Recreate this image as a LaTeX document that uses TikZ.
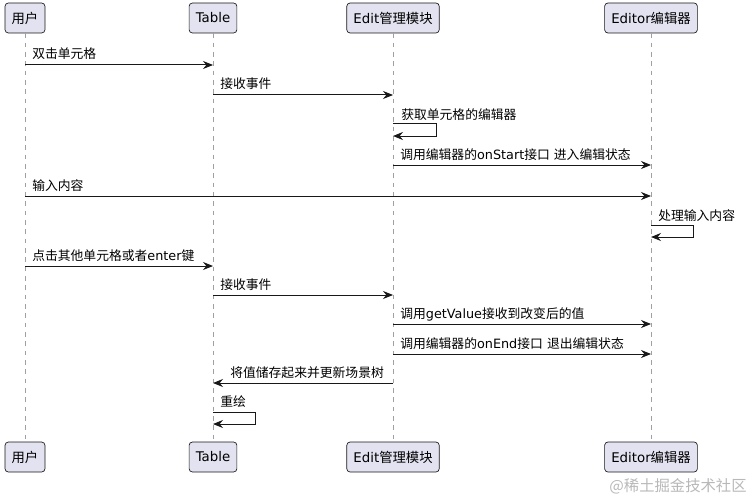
\documentclass[tikz,border=0pt]{standalone}
\usepackage{fontspec}
\setmainfont{Noto Sans CJK SC}
\newfontfamily\lat{DejaVu Sans}
\usepackage{tikz}
\usetikzlibrary{
  arrows.meta,
  positioning,
  calc,
}
\definecolor{boxfill}{HTML}{E2E2F0}
\definecolor{linedark}{HTML}{181818}
\definecolor{lifegray}{HTML}{A0A0A0}

\begin{document}
\begin{tikzpicture}[
    x=0.75pt, y=-0.75pt,
    actor/.style={draw=linedark, fill=boxfill, rounded corners=2.5pt, line width=0.5pt,
      minimum height=22.5pt, inner xsep=5pt, font=\fontsize{10}{12}\selectfont},
    lifeline/.style={draw=lifegray, line width=0.6pt, dash pattern=on 3.5pt off 3.5pt},
    msg/.style={draw=linedark, line width=0.75pt,
      -{Stealth[length=7.5pt, width=6pt, inset=2.5pt]}},
    lbl/.style={inner sep=0pt, anchor=base west, font=\fontsize{9.6}{11}\selectfont},
  ]
  \useasboundingbox (0,0) rectangle (755,499);

  % participants, top and bottom
  \node[actor] (uTop) at (25,18)  {用户};
  \node[actor] (tTop) at (213,18) {{\lat Table}};
  \node[actor] (eTop) at (393,18) {{\lat Edit}管理模块};
  \node[actor] (rTop) at (651,18) {{\lat Editor}编辑器};
  \node[actor] (uBot) at (25,457)  {用户};
  \node[actor] (tBot) at (213,457) {{\lat Table}};
  \node[actor] (eBot) at (393,457) {{\lat Edit}管理模块};
  \node[actor] (rBot) at (651,457) {{\lat Editor}编辑器};

  % lifelines
  \foreach \p in {u, t, e, r}
    \draw[lifeline] (\p Top.south) -- (\p Bot.north);

  % messages
  \draw[msg] (uTop.south |- 0,65) -- (tTop.south |- 0,65);
  \node[lbl] (m1) at ($(uTop.south |- 0,59)+(7,0)$) {双击单元格};

  \draw[msg] (tTop.south |- 0,95) -- (eTop.south |- 0,95);
  \node[lbl] (m2) at ($(tTop.south |- 0,89)+(7,0)$) {接收事件};

  \draw[msg] (eTop.south |- 0,124) -- ++(43,0) -- ++(0,12) -- (eTop.south |- 0,136);
  \node[lbl] (m3) at ($(eTop.south |- 0,119)+(8,0)$) {获取单元格的编辑器};

  \draw[msg] (eTop.south |- 0,165) -- (rTop.south |- 0,165);
  \node[lbl] (m4) at ($(eTop.south |- 0,159)+(7,0)$) {调用编辑器的{\lat onStart}接口{\lat\ }进入编辑状态};

  \draw[msg] (uTop.south |- 0,196) -- (rTop.south |- 0,196);
  \node[lbl] (m5) at ($(uTop.south |- 0,190)+(7,0)$) {输入内容};

  \draw[msg] (rTop.south |- 0,225) -- ++(42,0) -- ++(0,12) -- (rTop.south |- 0,237);
  \node[lbl] (m6) at ($(rTop.south |- 0,220)+(7,0)$) {处理输入内容};

  \draw[msg] (uTop.south |- 0,266) -- (tTop.south |- 0,266);
  \node[lbl] (m7) at ($(uTop.south |- 0,260)+(7,0)$) {点击其他单元格或者{\lat enter}键};

  \draw[msg] (tTop.south |- 0,295) -- (eTop.south |- 0,295);
  \node[lbl] (m8) at ($(tTop.south |- 0,289)+(7,0)$) {接收事件};

  \draw[msg] (eTop.south |- 0,324) -- (rTop.south |- 0,324);
  \node[lbl] (m9) at ($(eTop.south |- 0,318)+(7,0)$) {调用{\lat getValue}接收到改变后的值};

  \draw[msg] (eTop.south |- 0,354) -- (rTop.south |- 0,354);
  \node[lbl] (m10) at ($(eTop.south |- 0,348)+(7,0)$) {调用编辑器的{\lat onEnd}接口{\lat\ }退出编辑状态};

  \draw[msg] (eTop.south |- 0,383) -- (tTop.south |- 0,383);
  \node[lbl] (m11) at ($(tTop.south |- 0,377)+(17,0)$) {将值储存起来并更新场景树};

  \draw[msg] (tTop.south |- 0,412) -- ++(42,0) -- ++(0,12) -- (tTop.south |- 0,424);
  \node[lbl] (m12) at ($(tTop.south |- 0,406)+(7,0)$) {重绘};

  % watermark
  \node[text=black!28, font=\fontsize{11.5}{13}\selectfont] (wm) at (678,486) {@稀土掘金技术社区};
\end{tikzpicture}
\end{document}
